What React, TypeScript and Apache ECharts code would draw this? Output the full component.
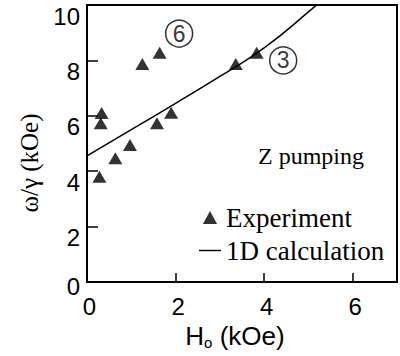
import React, { useEffect, useRef } from "react";
import * as echarts from "echarts";

const experimentPoints: [number, number][] = [
  [0.28, 3.8],
  [0.31, 5.73],
  [0.33, 6.1],
  [0.64, 4.47],
  [0.97, 4.95],
  [1.25, 7.87],
  [1.58, 5.73],
  [1.64, 8.28],
  [1.9, 6.11],
  [3.36, 7.87],
  [3.83, 8.28],
];

const calculationPoints: [number, number][] = [
  [0, 4.55],
  [1, 5.5],
  [2, 6.45],
  [3, 7.42],
  [4, 8.45],
  [5, 9.75],
  [5.6, 10.6],
];

const annotations: [number, number, string][] = [
  [2.08, 8.97, "6"],
  [4.43, 8.0, "3"],
];

const xTicks = [0, 2, 4, 6];
const yTicks = [0, 2, 4, 6, 8, 10];

export default function App() {
  const ref = useRef<HTMLDivElement>(null);
  useEffect(() => {
    if (!ref.current) return;
    const chart = echarts.init(ref.current, undefined, { renderer: "svg" });
    const sans = "Liberation Sans";
    const serif = "Liberation Serif";
    chart.setOption({
      animation: false,
      backgroundColor: "#ffffff",
      title: {
        text: "{t|Z pumping}",
        left: 258,
        top: 144,
        padding: 0,
        textStyle: {
          fontFamily: serif,
          fontSize: 24,
          fontWeight: "normal",
          color: "#000",
          rich: { t: { fontFamily: serif, fontSize: 24, color: "#000" } },
        },
      },
      grid: {
        left: 87,
        right: 2,
        top: 5,
        bottom: 74,
        show: true,
        borderColor: "#000",
        borderWidth: 2,
      },
      xAxis: {
        type: "value",
        min: 0,
        max: 7,
        interval: 2,
        name: "{h|H}{s|o}{h| (kOe)}",
        nameLocation: "middle",
        nameGap: 30,
        nameTextStyle: {
          padding: [0, 14, 0, 0],
          rich: {
            h: { fontFamily: sans, fontSize: 26, color: "#000" },
            s: { fontFamily: sans, fontSize: 15, color: "#000", padding: [14, 0, 0, 0] },
          },
        },
        axisLine: { show: true, lineStyle: { color: "#000", width: 2 } },
        axisTick: { show: true, inside: true, length: 9, lineStyle: { color: "#000", width: 1.5 } },
        axisLabel: {
          fontFamily: sans,
          fontSize: 24,
          color: "#000",
          margin: 12,
          padding: [0, 0, 0, 5],
          formatter: (v: number) => (xTicks.includes(v) ? String(v) : ""),
        },
        splitLine: { show: false },
      },
      yAxis: {
        type: "value",
        min: 0,
        max: 10,
        interval: 2,
        name: "{y|ω/γ (kOe)}",
        nameLocation: "middle",
        nameRotate: 90,
        nameGap: 40,
        nameTextStyle: {
          fontFamily: serif,
          fontSize: 25,
          color: "#000",
          padding: [0, 39, 0, 0],
          rich: { y: { fontFamily: serif, fontSize: 25, color: "#000" } },
        },
        axisLine: { show: true, lineStyle: { color: "#000", width: 2 } },
        axisTick: { show: true, inside: true, length: 11, lineStyle: { color: "#000", width: 1.5 } },
        axisLabel: {
          fontFamily: sans,
          fontSize: 24,
          color: "#000",
          margin: 7,
          formatter: (v: number) => {
            if (!yTicks.includes(v)) return "";
            return v === 0 ? "{z|0}" : "{n|" + v + "}";
          },
          rich: {
            n: { fontFamily: sans, fontSize: 24, color: "#000", padding: [22, 0, 0, 0] },
            z: { fontFamily: sans, fontSize: 24, color: "#000", padding: [8, 0, 0, 0] },
          },
        },
        splitLine: { show: false },
      },
      legend: {
        orient: "vertical",
        left: 194,
        top: 199,
        itemWidth: 22,
        itemHeight: 13,
        itemGap: 6,
        symbolKeepAspect: true,
        textStyle: { fontFamily: serif, fontSize: 27, color: "#000" },
        data: [
          { name: "Experiment", icon: "path://M6,0 L12,11 L0,11 Z" },
          { name: "1D calculation", icon: "path://M0,5 L20,5 L20,6.3 L0,6.3 Z" },
        ],
      },
      series: [
        {
          name: "1D calculation",
          type: "line",
          data: calculationPoints,
          smooth: true,
          symbol: "none",
          clip: true,
          lineStyle: { color: "#000", width: 1.5 },
          itemStyle: { color: "#000" },
        },
        {
          name: "Experiment",
          type: "scatter",
          data: experimentPoints,
          symbol: "triangle",
          symbolSize: [14, 12],
          itemStyle: { color: "#000" },
        },
        {
          name: "labels",
          type: "scatter",
          data: annotations,
          symbol: "circle",
          symbolSize: 27,
          itemStyle: { color: "rgba(0,0,0,0)", borderColor: "#000", borderWidth: 1.5 },
          label: {
            show: true,
            position: "inside",
            formatter: (p: any) => p.value[2],
            fontFamily: sans,
            fontSize: 23,
            color: "#000",
          },
        },
      ],
    });
    return () => chart.dispose();
  }, []);
  return (
    <div
      ref={ref}
      style={{ position: "absolute", left: 0, top: 0, width: 400, height: 356 }}
    />
  );
}
